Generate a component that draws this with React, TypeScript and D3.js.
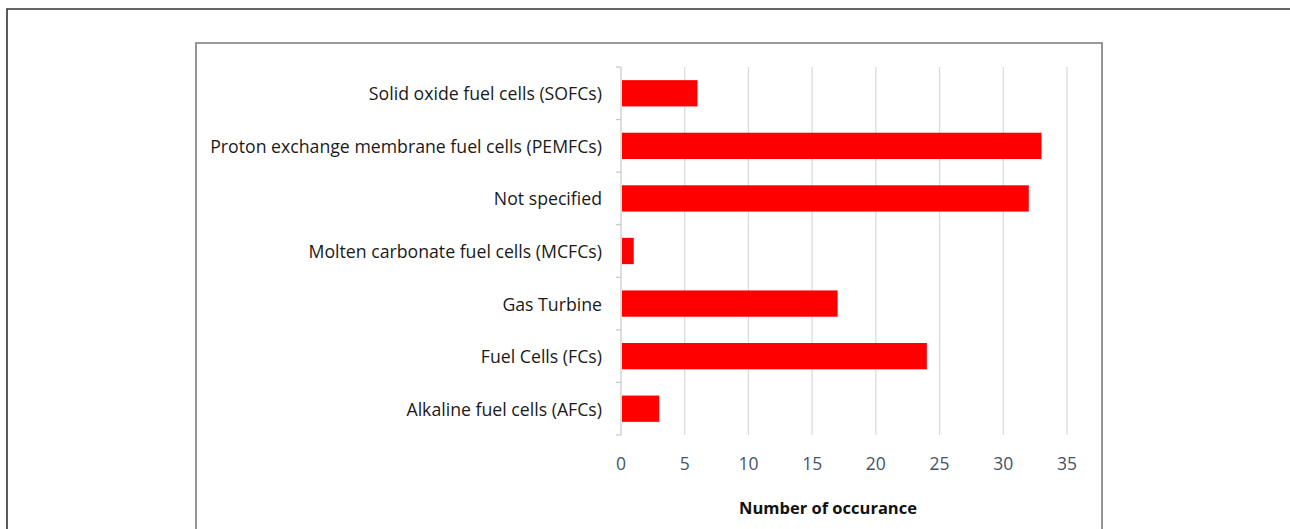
import React from "react";
import * as d3 from "d3";

const categories = [
  "Solid oxide fuel cells (SOFCs)",
  "Proton exchange membrane fuel cells (PEMFCs)",
  "Not specified",
  "Molten carbonate fuel cells (MCFCs)",
  "Gas Turbine",
  "Fuel Cells (FCs)",
  "Alkaline fuel cells (AFCs)",
];
const values = [6, 33, 32, 1, 17, 24, 3];
const xTicks = [0, 5, 10, 15, 20, 25, 30, 35];
const xTitle = "Number of occurance";

const W = 1290;
const H = 529;
const FONT = "'Open Sans', 'Liberation Sans', sans-serif";

export default function App() {
  const x = d3.scaleLinear().domain([0, 35]).range([621, 1067]);
  const y = d3
    .scaleBand<string>()
    .domain(categories)
    .range([67, 435])
    .paddingInner(0.5)
    .paddingOuter(0.25);
  const step = y.step();
  const boundaries = d3.range(categories.length + 1).map((i) => 67 + i * step);

  return (
    <div style={{ position: "absolute", left: 0, top: 0, width: W, height: H, background: "#fff" }}>
      <svg width={W} height={H} style={{ display: "block" }}>
        <rect x={0} y={0} width={W} height={H} fill="#fff" />
        {/* outer frame */}
        <path d={`M7,${H + 5} V9 H${W + 5}`} fill="none" stroke="#333" strokeWidth={1.6} />
        {/* inner frame */}
        <path d={`M196,${H + 5} V43 H1102 V${H + 5}`} fill="none" stroke="#7a7a7a" strokeWidth={1.6} />
        {/* gridlines */}
        {xTicks.slice(1).map((t) => (
          <line key={t} x1={x(t)} x2={x(t)} y1={67} y2={435} stroke="#d9d9d9" strokeWidth={1.2} />
        ))}
        {/* y axis */}
        <line x1={x(0)} x2={x(0)} y1={67} y2={435} stroke="#c8c8c8" strokeWidth={1.2} />
        {boundaries.map((b, i) => (
          <line key={i} x1={x(0) - 5} x2={x(0)} y1={b} y2={b} stroke="#c8c8c8" strokeWidth={1.2} />
        ))}
        {/* bars */}
        {categories.map((c, i) => (
          <rect
            key={c}
            x={x(0) + 1}
            y={y(c)!}
            width={x(values[i]) - x(0) - 1}
            height={y.bandwidth()}
            fill="#ff0000"
          />
        ))}
        {/* category labels */}
        {categories.map((c) => (
          <text
            key={c}
            x={602}
            y={y(c)! + y.bandwidth() / 2}
            textAnchor="end"
            dominantBaseline="central"
            fontFamily={FONT}
            fontSize={17.7}
            fill="#1a1a1a"
          >
            {c}
          </text>
        ))}
        {/* x tick labels */}
        {xTicks.map((t) => (
          <text
            key={t}
            x={x(t)}
            y={463}
            textAnchor="middle"
            dominantBaseline="central"
            fontFamily={FONT}
            fontSize={17.5}
            fill="#44546a"
          >
            {t}
          </text>
        ))}
        {/* x axis title */}
        <text
          x={828}
          y={507}
          textAnchor="middle"
          dominantBaseline="central"
          fontFamily={FONT}
          fontSize={16.5}
          fontWeight="bold"
          fill="#111"
        >
          {xTitle}
        </text>
      </svg>
    </div>
  );
}
